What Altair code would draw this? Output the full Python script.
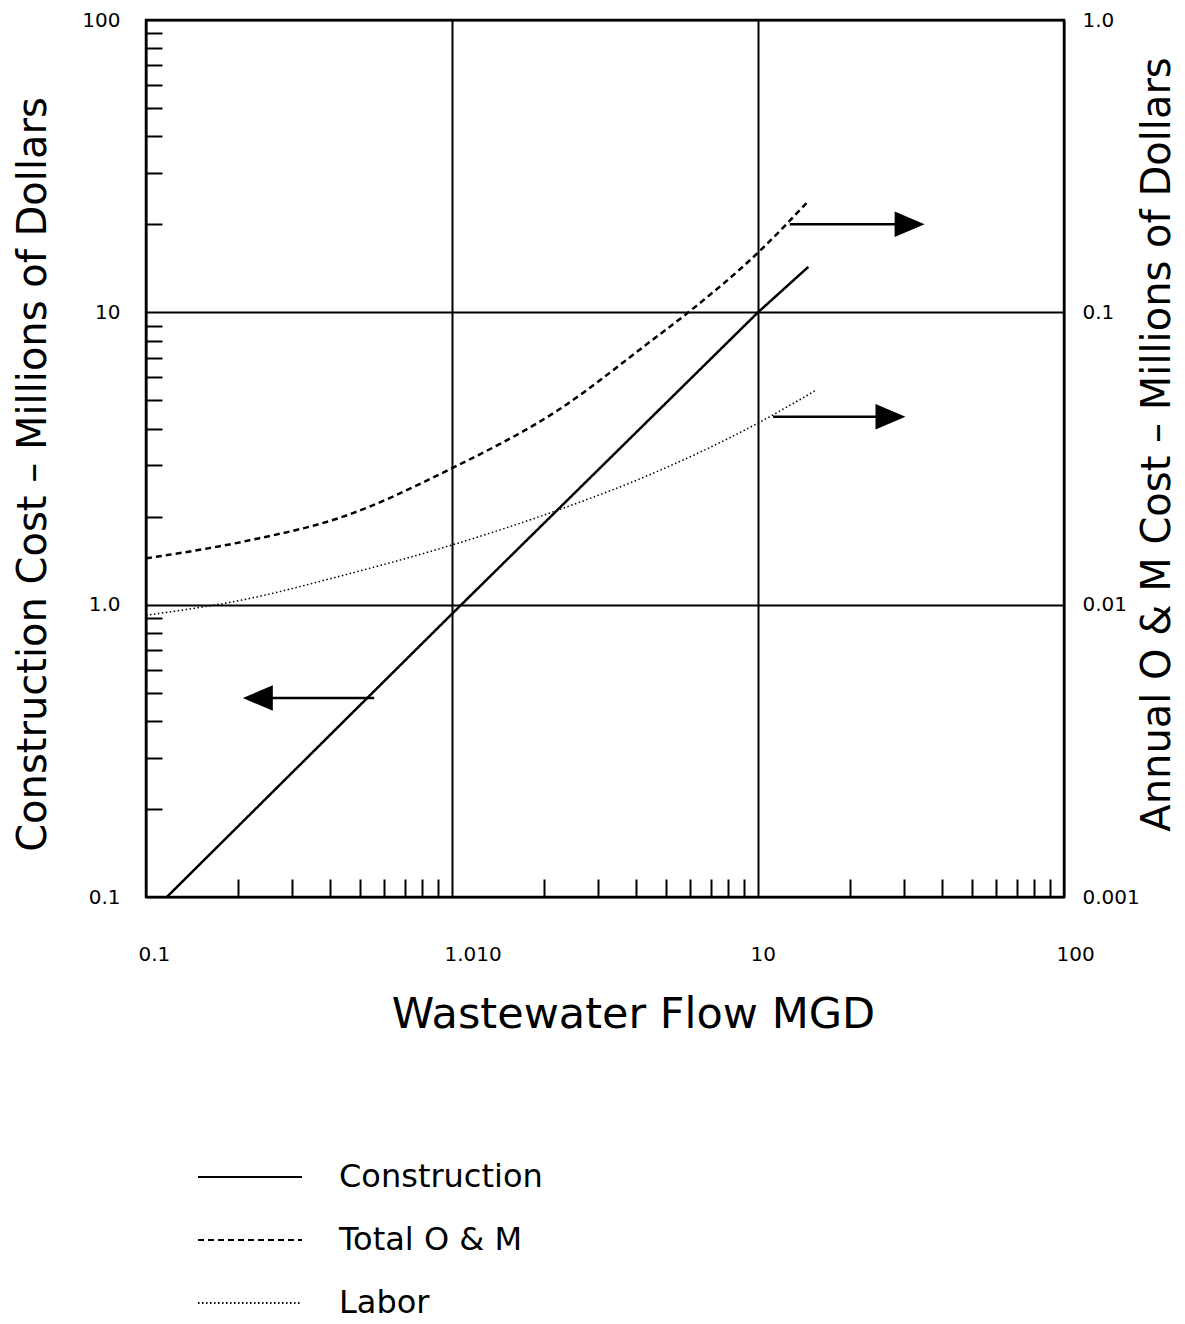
import altair as alt
import pandas as pd

# ---------------- data ----------------
construction_flow = [0.117, 1.0, 10.0, 14.6]
construction_cost = [0.1, 0.93, 10.0, 14.3]

total_om_flow = [0.1, 0.218, 0.428, 1.0, 2.23, 4.38, 5.92, 10.0, 14.6]
total_om_cost = [0.0144, 0.0166, 0.0198, 0.0293, 0.0464, 0.0785, 0.100, 0.160, 0.240]

labor_flow = [0.1, 0.218, 0.428, 1.0, 2.23, 4.38, 10.0, 15.5]
labor_cost = [0.0092, 0.0105, 0.0125, 0.0160, 0.0211, 0.0277, 0.0418, 0.0542]

series_names = ["Construction", "Total O & M", "Labor"]

# arrows (left arrow in construction units, right arrows in O & M units)
left_arrow_from = [0.557]
left_arrow_to = [0.232]
left_arrow_cost = [0.479]
right_arrow_from = [12.7, 11.2]
right_arrow_to = [31.3, 27.1]
right_arrow_cost = [0.200, 0.0439]

x_major = [0.1, 1, 10, 100]
x_major_labels = ["0.1", "1.010", "10", "100"]
y_left_major = [0.1, 1, 10, 100]
y_left_labels = ["0.1", "1.0", "10", "100"]
y_right_major = [0.001, 0.01, 0.1, 1]
y_right_labels = ["0.001", "0.01", "0.1", "1.0"]
minor_ticks = [m * d for d in (0.1, 1, 10) for m in range(2, 10)]

FONT = "DejaVu Sans"


def label_expr(values, labels):
    expr = "''"
    for v, l in reversed(list(zip(values, labels))):
        expr = f"(abs(datum.value - {v}) < {v} * 0.001) ? '{l}' : ({expr})"
    return expr


con_df = pd.DataFrame({"flow": construction_flow, "cost": construction_cost,
                       "series": "Construction"})
tot_df = pd.DataFrame({"flow": total_om_flow, "cost": total_om_cost,
                       "series": "Total O & M"})
lab_df = pd.DataFrame({"flow": labor_flow, "cost": labor_cost, "series": "Labor"})
left_arrow_df = pd.DataFrame({"x1": left_arrow_from, "x2": left_arrow_to,
                              "cost": left_arrow_cost})
right_arrow_df = pd.DataFrame({"x1": right_arrow_from, "x2": right_arrow_to,
                               "cost": right_arrow_cost})

xs = alt.Scale(type="log", domain=[0.1, 100])
yls = alt.Scale(type="log", domain=[0.1, 100])
yrs = alt.Scale(type="log", domain=[0.001, 1])

dash_scale = alt.Scale(domain=series_names, range=[[1, 0], [6, 4], [1.5, 2.5]])
dash_legend = alt.Legend(title=None, orient="none", legendX=88, legendY=1141,
                         symbolType="M -4 0 L 4 0", symbolSize=676,
                         symbolStrokeWidth=2, symbolStrokeColor="black",
                         labelFontSize=32, labelFont=FONT, labelColor="black",
                         labelOffset=73, rowPadding=31, labelLimit=0)

x_main_axis = alt.Axis(values=x_major, labelExpr=label_expr(x_major, x_major_labels),
                       grid=True, ticks=False, domain=False, labelFontSize=20,
                       labelAlign="left", labelOffset=-8, labelPadding=47,
                       labelBaseline="top", labelFlush=False, labelOverlap=False,
                       title="Wastewater Flow MGD", titleFontSize=43,
                       titleX=487, titleY=130, titleBaseline="alphabetic",
                       titleAlign="center")
y_left_axis = alt.Axis(orient="left", values=y_left_major,
                       labelExpr=label_expr(y_left_major, y_left_labels),
                       grid=True, ticks=False, domain=False, labelFontSize=20,
                       labelPadding=26, labelFlush=False, labelOverlap=False,
                       title="Construction Cost  –  Millions of Dollars",
                       titleFontSize=40, titleAngle=270, titleX=-101, titleY=454,
                       titleBaseline="alphabetic", titleAlign="center")
y_right_axis = alt.Axis(orient="right", values=y_right_major,
                        labelExpr=label_expr(y_right_major, y_right_labels),
                        grid=False, ticks=False, domain=False, labelFontSize=20,
                        labelPadding=18, labelFlush=False, labelOverlap=False,
                        title="Annual O & M Cost  –  Millions of Dollars",
                        titleFontSize=40, titleAngle=270, titleX=105, titleY=424,
                        titleBaseline="alphabetic", titleAlign="center")
x_minor_axis = alt.Axis(orient="bottom", values=minor_ticks, offset=-18, tickSize=18,
                        tickWidth=2, tickColor="black", labels=False, domain=False,
                        grid=False, title=None)
y_minor_axis = alt.Axis(orient="left", values=minor_ticks, offset=-16, tickSize=16,
                        tickWidth=2, tickColor="black", labels=False, domain=False,
                        grid=False, title=None)

construction = alt.Chart(con_df).mark_line(color="black", strokeWidth=2.5).encode(
    x=alt.X("flow:Q", scale=xs, axis=x_main_axis),
    y=alt.Y("cost:Q", scale=yls, axis=y_left_axis),
    strokeDash=alt.StrokeDash("series:N", scale=dash_scale, legend=dash_legend),
)

left_shaft = alt.Chart(left_arrow_df).mark_rule(color="black", strokeWidth=2.5).encode(
    x=alt.X("x1:Q", scale=xs, axis=x_minor_axis),
    x2="x2:Q",
    y=alt.Y("cost:Q", scale=yls, axis=y_minor_axis),
)

left_head = alt.Chart(left_arrow_df).mark_point(
    shape="M 1 -0.85 L -1 0 L 1 0.85 Z", size=900, filled=True, color="black",
    opacity=1, strokeWidth=0).encode(
    x=alt.X("x2:Q", scale=xs, axis=None),
    y=alt.Y("cost:Q", scale=yls, axis=None),
)

total = alt.Chart(tot_df).mark_line(color="black", strokeWidth=2.5,
                                    interpolate="monotone").encode(
    x=alt.X("flow:Q", scale=xs, axis=None),
    y=alt.Y("cost:Q", scale=yrs, axis=y_right_axis),
    strokeDash=alt.StrokeDash("series:N", scale=dash_scale, legend=dash_legend),
)

labor = alt.Chart(lab_df).mark_line(color="black", strokeWidth=1.5,
                                    interpolate="monotone").encode(
    x=alt.X("flow:Q", scale=xs, axis=None),
    y=alt.Y("cost:Q", scale=yrs, axis=None),
    strokeDash=alt.StrokeDash("series:N", scale=dash_scale, legend=dash_legend),
)

right_shafts = alt.Chart(right_arrow_df).mark_rule(color="black", strokeWidth=2.5).encode(
    x=alt.X("x1:Q", scale=xs, axis=None),
    x2="x2:Q",
    y=alt.Y("cost:Q", scale=yrs, axis=None),
)

right_heads = alt.Chart(right_arrow_df).mark_point(
    shape="M -1 -0.85 L 1 0 L -1 0.85 Z", size=900, filled=True, color="black",
    opacity=1, strokeWidth=0).encode(
    x=alt.X("x2:Q", scale=xs, axis=None),
    y=alt.Y("cost:Q", scale=yrs, axis=None),
)

chart = alt.layer(
    construction, left_shaft, left_head, total, labor, right_shafts, right_heads
).resolve_scale(
    y="independent"
).resolve_axis(
    x="independent", y="independent"
).properties(
    width=918, height=877,
    autosize=alt.AutoSizeParams(type="none"),
    padding={"left": 138, "top": 12, "right": 113, "bottom": 427},
    background="white",
).configure_view(
    stroke="black", strokeWidth=2.5
).configure_axis(
    labelFont=FONT, titleFont=FONT, labelColor="black", titleColor="black",
    gridColor="black", gridWidth=2, gridOpacity=1, titleFontWeight="normal",
)

chart.save("out.html", embed_options={"renderer": "svg", "actions": False})
